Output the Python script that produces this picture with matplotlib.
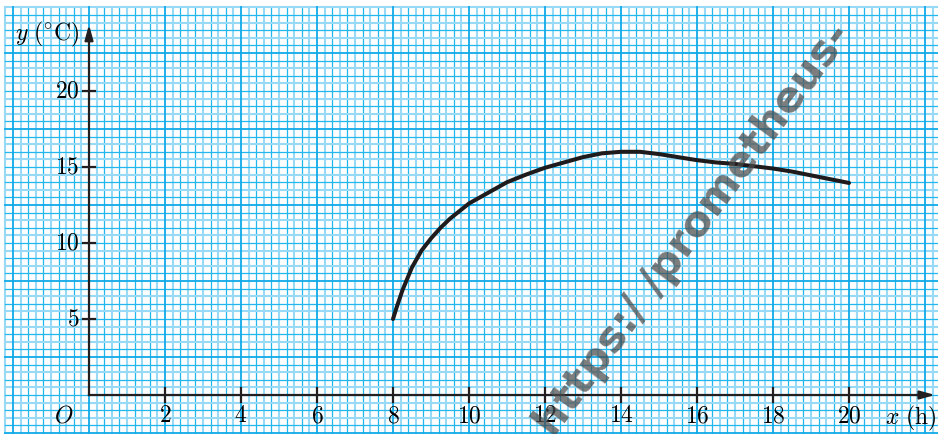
import numpy as np
import matplotlib.pyplot as plt

# temperature curve
hours = [8, 8.1, 8.25, 8.4, 8.5, 8.75, 9, 9.25, 9.5, 9.75, 10, 10.5, 11, 11.5,
         12, 12.5, 13, 13.5, 14, 14.5, 15, 15.5, 16, 16.5, 17, 17.5, 18, 18.5,
         19, 19.5, 20]
temps = [5, 5.8, 6.9, 7.8, 8.4, 9.5, 10.3, 11.0, 11.6, 12.1, 12.6, 13.3, 14.0,
         14.5, 14.95, 15.3, 15.65, 15.9, 16.0, 16.0, 15.85, 15.65, 15.45, 15.3,
         15.2, 15.05, 14.9, 14.7, 14.45, 14.2, 13.95]

x_ticks = [2, 4, 6, 8, 10, 12, 14, 16, 18, 20]
y_ticks = [5, 10, 15, 20]

plt.rcParams['mathtext.fontset'] = 'cm'
plt.rcParams['font.family'] = 'serif'
plt.rcParams['font.serif'] = ['DejaVu Serif']

fig = plt.figure(figsize=(9.38, 4.34), dpi=100)
ax = fig.add_axes([0, 0, 1, 1])
# 1 x-unit = 38 px, 1 y-unit = 15.2 px, origin at pixel (89, 395)
ax.set_xlim(-89 / 38, (938 - 89) / 38)
ax.set_ylim((395 - 434) / 15.2, 395 / 15.2)
ax.axis('off')

# graph paper
gx0, gx1 = -2.2, 22.6
gy0, gy1 = -2.6, 25.5
dark = '#22b7ee'
light = '#98daf5'
major = '#10a9e8'
for k in range(-11, 114):
    xv = k * 0.2
    if k % 10 == 0:
        ax.plot([xv, xv], [gy0, gy1], color=major, lw=1.3, zorder=2)
    elif k % 2 == 0:
        ax.plot([xv, xv], [gy0, gy1], color=dark, lw=0.9, zorder=1)
    else:
        ax.plot([xv, xv], [gy0, gy1], color=light, lw=1.5, zorder=1)
for k in range(-5, 52):
    yv = k * 0.5
    if (k - 5) % 10 == 0:
        ax.plot([gx0, gx1], [yv, yv], color=major, lw=1.3, zorder=2)
    elif k % 2 == 0:
        ax.plot([gx0, gx1], [yv, yv], color=dark, lw=0.9, zorder=1)
    else:
        ax.plot([gx0, gx1], [yv, yv], color=light, lw=1.5, zorder=1)

# axes with arrows
ax.plot([0, 21.9], [0, 0], color='#231f20', lw=1.6, zorder=4)
ax.plot([0, 0], [0, 23.5], color='#231f20', lw=1.6, zorder=4)
ax.annotate('', xy=(22.34, 0), xytext=(21.7, 0),
            arrowprops=dict(arrowstyle='-|>,head_length=0.9,head_width=0.25',
                            color='#231f20', lw=1.6), zorder=4)
ax.annotate('', xy=(0, 24.55), xytext=(0, 23.2),
            arrowprops=dict(arrowstyle='-|>,head_length=0.9,head_width=0.25',
                            color='#231f20', lw=1.6), zorder=4)

for t in x_ticks:
    ax.plot([t, t], [-0.45, 0.45], color='#231f20', lw=1.6, zorder=4)
    ax.text(t, -0.6, r'$%d$' % t, ha='center', va='top', fontsize=17, zorder=5)
for t in y_ticks:
    ax.plot([-0.17, 0.17], [t, t], color='#231f20', lw=1.6, zorder=4)
    ax.text(-0.25, t, r'$%d$' % t, ha='right', va='center', fontsize=17, zorder=5)

ax.text(-0.42, -0.6, r'$O$', ha='right', va='top', fontsize=17, zorder=5)
ax.text(20.95, -0.6, r'$x\ (\mathrm{h})$', ha='left', va='top', fontsize=17, zorder=5)
ax.text(-1.95, 23.7, r'$y\ (^{\circ}\mathrm{C})$', ha='left', va='center',
        fontsize=17, zorder=5)

# the curve
ax.plot(hours, temps, color='#1f1a1b', lw=2.9, solid_capstyle='round',
        solid_joinstyle='round', zorder=6)

# watermark (clipped by the picture edges, as in the scan)
ax.text(15.9, 10.9, 'https:/ /prometheus-', rotation=53.5, rotation_mode='anchor',
        ha='center', va='center', fontsize=31, fontweight='bold',
        family='DejaVu Sans', color='#4a4a4a', alpha=0.72, zorder=7)

fig.savefig('out.png', dpi=100)
